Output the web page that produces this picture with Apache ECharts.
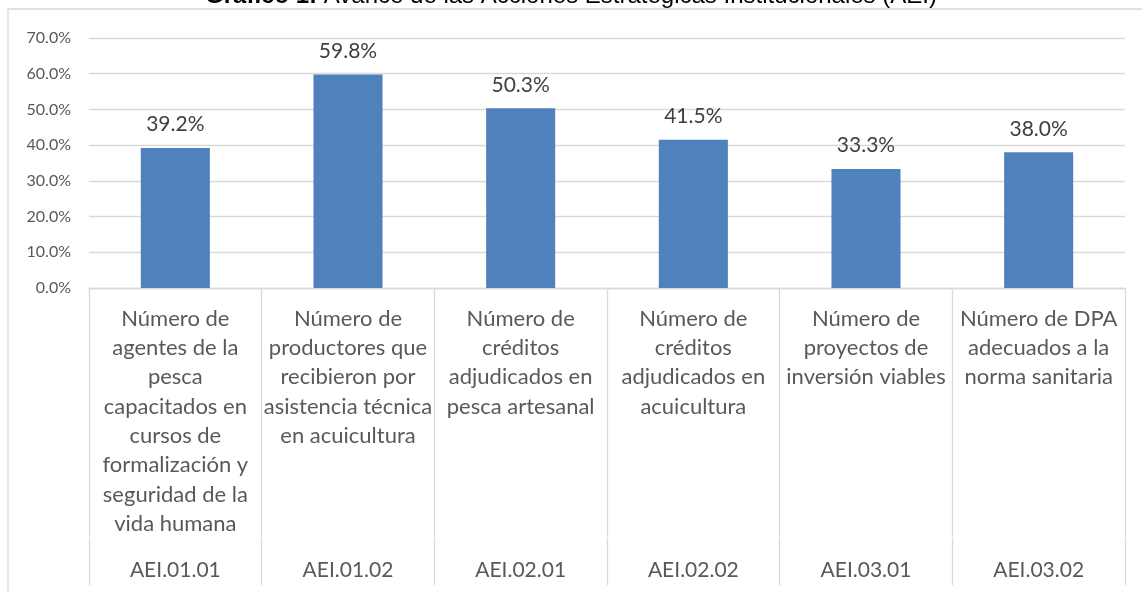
<!DOCTYPE html>
<html lang="es">
<head>
<meta charset="utf-8">
<title>Avance de las AEI</title>
<script src="https://cdn.jsdelivr.net/npm/echarts@6/dist/echarts.min.js"></script>
<style>
  html, body { margin: 0; padding: 0; background: #fff; }
  #chart { width: 1142px; height: 592px; }
</style>
</head>
<body>
<div id="chart"></div>
<script>
// datos del gráfico
const codigos = ['AEI.01.01', 'AEI.01.02', 'AEI.02.01', 'AEI.02.02', 'AEI.03.01', 'AEI.03.02'];
const descripciones = [
  'Número de\nagentes de la\npesca\ncapacitados en\ncursos de\nformalización y\nseguridad de la\nvida humana',
  'Número de\nproductores que\nrecibieron por\nasistencia técnica\nen acuicultura',
  'Número de\ncréditos\nadjudicados en\npesca artesanal',
  'Número de\ncréditos\nadjudicados en\nacuicultura',
  'Número de\nproyectos de\ninversión viables',
  'Número de DPA\nadecuados a la\nnorma sanitaria'
];
const avance = [39.2, 59.8, 50.3, 41.5, 33.3, 38.0]; // %
const ticksY = [0, 10, 20, 30, 40, 50, 60, 70];

const gris = '#d9d9d9';
const fuente = 'Lato, "Noto Sans", sans-serif';
const arial = '"Liberation Sans", Arial, sans-serif';

const chart = echarts.init(document.getElementById('chart'));

const option = {
  animation: false,
  title: {
    text: '{b|Gráfico 1:} Avance de las Acciones Estratégicas Institucionales (AEI)',
    left: 'center',
    top: -21,
    textStyle: {
      fontFamily: arial,
      fontSize: 24,
      fontWeight: 'normal',
      color: '#000',
      rich: {
        b: { fontFamily: arial, fontSize: 24, fontWeight: 'bold', color: '#000' }
      }
    }
  },
  graphic: [
    {
      type: 'rect',
      silent: true,
      z: -1,
      shape: { x: 8, y: 9, width: 1300, height: 800 },
      style: { fill: 'none', stroke: gris, lineWidth: 1.3 }
    }
  ],
  grid: {
    left: 89,
    right: 17,
    top: 38,
    bottom: 304,
    outerBoundsMode: 'none'
  },
  xAxis: [
    {
      type: 'category',
      data: descripciones,
      position: 'bottom',
      axisLine: { show: true, lineStyle: { color: gris, width: 1.3 } },
      axisTick: { show: true, interval: 0, length: 249, lineStyle: { color: gris, width: 1.3 } },
      axisLabel: {
        interval: 0,
        margin: 16,
        verticalAlign: 'top',
        lineHeight: 29.3,
        fontFamily: fuente,
        fontSize: 22,
        color: '#595959'
      }
    },
    {
      type: 'category',
      data: codigos,
      position: 'bottom',
      offset: 250,
      axisLine: { show: false },
      axisTick: { show: true, interval: 0, length: 47, lineStyle: { color: gris, width: 1.3 } },
      axisLabel: {
        interval: 0,
        margin: 32,
        verticalAlign: 'middle',
        fontFamily: fuente,
        fontSize: 21,
        color: '#595959'
      }
    }
  ],
  yAxis: {
    type: 'value',
    min: ticksY[0],
    max: ticksY[ticksY.length - 1],
    interval: 10,
    axisLine: { show: false },
    axisTick: { show: false },
    splitLine: { lineStyle: { color: gris, width: 1.3 } },
    axisLabel: {
      margin: 18,
      fontFamily: fuente,
      fontSize: 16,
      color: '#595959',
      formatter: (v) => v.toFixed(1) + '%'
    }
  },
  series: [
    {
      type: 'bar',
      xAxisIndex: 0,
      data: avance,
      barWidth: '40%',
      itemStyle: { color: '#4f81bd' },
      label: {
        show: true,
        position: 'top',
        distance: 13,
        fontFamily: fuente,
        fontSize: 21,
        color: '#404040',
        formatter: (p) => p.value.toFixed(1) + '%'
      }
    }
  ]
};

chart.setOption(option);
</script>
</body>
</html>
